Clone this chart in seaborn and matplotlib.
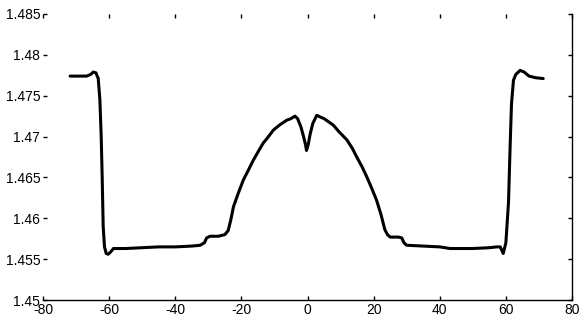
import matplotlib
matplotlib.use("Agg")
import matplotlib.pyplot as plt
import seaborn as sns
import pandas as pd

position = [-71.8, -68.0, -66.8, -65.6, -64.8, -64.0, -63.3, -62.8, -62.4, -62.1, -61.8, -61.4, -60.9,
            -60.3, -59.5, -58.7, -55.0, -50.0, -45.0, -40.0, -35.0, -32.5, -31.2, -30.5, -29.5,
            -27.0, -25.0, -24.0, -23.2, -22.4, -21.0, -19.4, -18.0, -16.4, -15.0, -13.4, -12.0,
            -10.3, -8.5, -6.3, -5.0, -3.8, -3.0, -2.0, -1.2, -0.6, -0.3, 0.2, 0.8, 1.6, 2.2,
            2.8, 3.8, 5.0, 6.4, 7.8, 9.5, 11.9, 13.5, 14.9, 16.5, 17.9, 19.5, 20.9, 22.2,
            23.4, 24.2, 25.0, 26.5, 27.5, 28.5, 29.2, 30.0, 35.0, 40.0, 43.1, 50.0, 55.0,
            57.2, 58.3, 59.2, 60.0, 60.8, 61.3, 61.7, 62.3, 63.0, 64.3, 65.5, 67.0, 69.0, 71.3]
index = [1.4774, 1.4774, 1.4774, 1.4776, 1.4779, 1.4778, 1.4771, 1.4745, 1.4700, 1.4650, 1.4590, 1.4565, 1.4557,
         1.4556, 1.4559, 1.4563, 1.4563, 1.4564, 1.4565, 1.4565, 1.4566, 1.4567, 1.4570, 1.4576, 1.4578,
         1.4578, 1.4580, 1.4585, 1.4598, 1.4614, 1.4630, 1.4647, 1.4658, 1.4671, 1.4681, 1.4692, 1.4699,
         1.4708, 1.4714, 1.4720, 1.4722, 1.4725, 1.4722, 1.4712, 1.4700, 1.4690, 1.4683, 1.4690, 1.4703, 1.4716, 1.4721,
         1.4726, 1.4724, 1.4722, 1.4718, 1.4714, 1.4706, 1.4696, 1.4686, 1.4675, 1.4663, 1.4651, 1.4636, 1.4622, 1.4605,
         1.4586, 1.4580, 1.4577, 1.4577, 1.4577, 1.4576, 1.4570, 1.4567, 1.4566, 1.4565, 1.4563, 1.4563, 1.4564,
         1.4565, 1.4565, 1.4557, 1.4570, 1.4620, 1.4690, 1.4740, 1.4769, 1.4776, 1.4781, 1.4779, 1.4774, 1.4772, 1.4771]

xticks = [-80, -60, -40, -20, 0, 20, 40, 60, 80]
yticks = [1.45, 1.455, 1.46, 1.465, 1.47, 1.475, 1.48, 1.485]
ytick_labels = ["1.45", "1.455", "1.46", "1.465", "1.47", "1.475", "1.48", "1.485"]

df = pd.DataFrame({"position": position, "index": index})

sns.set_style("white")
plt.rcParams['font.family'] = ['Liberation Sans', 'DejaVu Sans']

fig = plt.figure(figsize=(5.86, 3.21), dpi=100)
ax = fig.add_axes([0.0734, 0.0654, 0.9027, 0.8910])
sns.lineplot(data=df, x="position", y="index", ax=ax, color="black", linewidth=2.2, sort=False)

ax.set_xlim(-80, 80)
ax.set_ylim(1.45, 1.485)
ax.set_xticks(xticks)
ax.set_xticklabels([str(t) for t in xticks])
ax.set_yticks(yticks)
ax.set_yticklabels(ytick_labels)
ax.set_xlabel("")
ax.set_ylabel("")
ax.tick_params(direction="in", length=3, width=1, color="black", labelsize=10,
               top=True, right=True, left=True, bottom=True, pad=2, labelcolor="black")
for side in ["left", "top"]:
    ax.spines[side].set_visible(False)
for side in ["bottom", "right"]:
    ax.spines[side].set_color("black")
    ax.spines[side].set_linewidth(1)

fig.savefig("out.png", dpi=100)
